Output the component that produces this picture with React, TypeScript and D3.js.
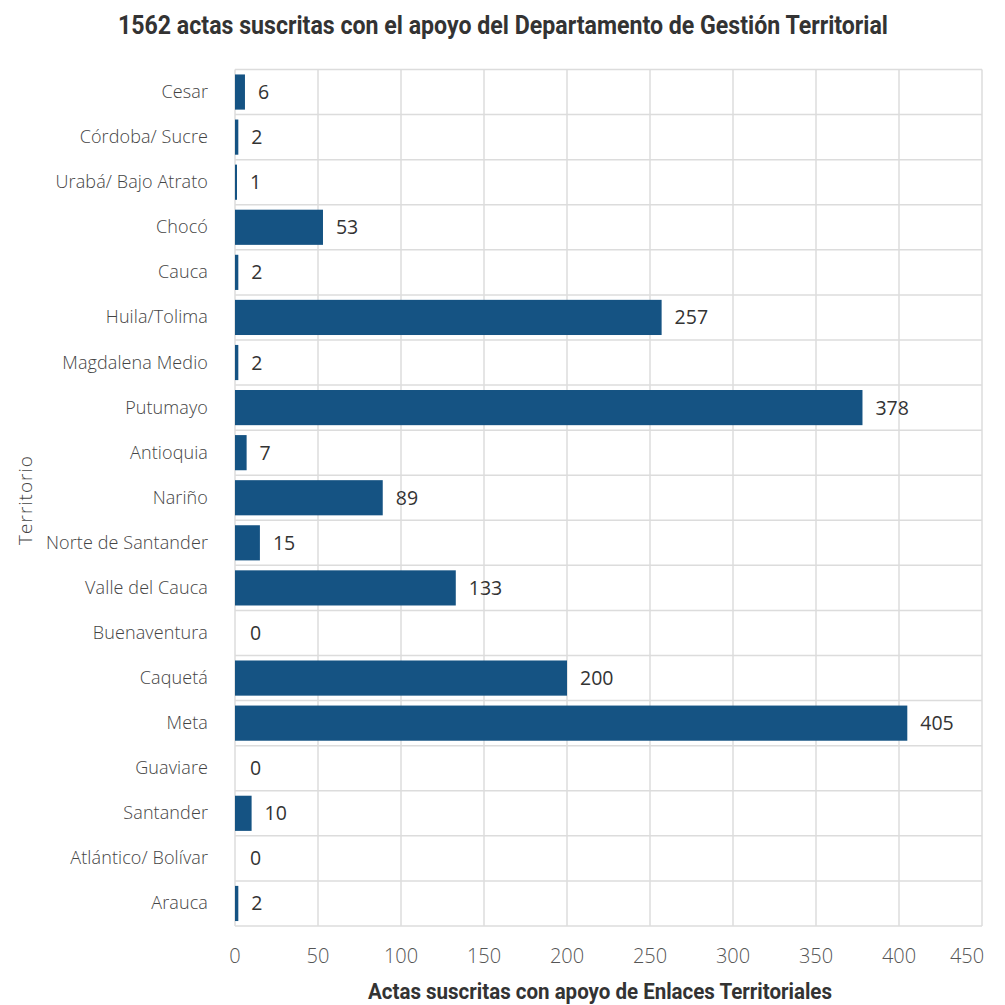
import React from "react";
import * as d3 from "d3";

const categories = ["Cesar","Córdoba/ Sucre","Urabá/ Bajo Atrato","Chocó","Cauca","Huila/Tolima","Magdalena Medio","Putumayo","Antioquia","Nariño","Norte de Santander","Valle del Cauca","Buenaventura","Caquetá","Meta","Guaviare","Santander","Atlántico/ Bolívar","Arauca"];
const values = [6,2,1,53,2,257,2,378,7,89,15,133,0,200,405,0,10,0,2];
const xTicks = [0,50,100,150,200,250,300,350,400,450];
const title = "1562 actas suscritas con el apoyo del Departamento de Gestión Territorial";
const xTitle = "Actas suscritas con apoyo de Enlaces Territoriales";
const yTitle = "Territorio";

export default function App() {
  const W = 1005, H = 1005;
  const left = 235, right = 982, top = 69.5, bottom = 926;
  const x = d3.scaleLinear().domain([0, 450]).range([left, right]);
  const y = d3.scaleBand<string>().domain(categories).range([top, bottom]).paddingInner(0.22).paddingOuter(0.11);
  const step = y.step();
  const grid = "#dcdcdc";
  const barColor = "#155383";
  const lightFont = "'Open Sans', Lato, sans-serif";
  return (
    <svg width={W} height={H} style={{ position: "absolute", left: 0, top: 0, background: "#fff" }}>
      <text x={503} y={34} textAnchor="middle" fontFamily="Roboto, sans-serif" fontWeight={700} fontSize={25} fill="#333" textLength={770} lengthAdjust="spacingAndGlyphs">{title}</text>
      {xTicks.map(t => (
        <line key={"v" + t} x1={x(t)} x2={x(t)} y1={top} y2={bottom} stroke={grid} strokeWidth={1.5} />
      ))}
      {categories.map((c, i) => (
        <line key={"h" + i} x1={left} x2={right} y1={top + i * step} y2={top + i * step} stroke={grid} strokeWidth={1.5} />
      ))}
      <line x1={left} x2={right} y1={bottom} y2={bottom} stroke={grid} strokeWidth={1.5} />
      {categories.map((c, i) => (
        <g key={c}>
          <rect x={x(0)} y={y(c)!} width={Math.max(x(values[i]) - x(0), values[i] > 0 ? 2 : 0)} height={y.bandwidth()} fill={barColor} />
          <text x={Math.max(x(values[i]), x(0) + 2) + 13} y={y(c)! + y.bandwidth() / 2 + 7} fontFamily={lightFont} fontWeight={400} fontSize={19.5} fill="#333">{values[i]}</text>
          <text x={208} y={y(c)! + y.bandwidth() / 2 + 6} textAnchor="end" fontFamily={lightFont} fontWeight={300} fontSize={18} fill="#444" letterSpacing={0.1}>{c}</text>
        </g>
      ))}
      {xTicks.map((t, i) => (
        <text key={"t" + t} x={i === xTicks.length - 1 ? x(t) - 15 : x(t)} y={963} textAnchor="middle" fontFamily={lightFont} fontWeight={300} fontSize={20} fill="#555">{t}</text>
      ))}
      <text x={600} y={999} textAnchor="middle" fontFamily="Roboto, sans-serif" fontWeight={700} fontSize={22} fill="#333" textLength={464} lengthAdjust="spacingAndGlyphs">{xTitle}</text>
      <text transform={`translate(32, 500) rotate(-90)`} textAnchor="middle" fontFamily={lightFont} fontWeight={300} fontSize={19} fill="#444" letterSpacing={1}>{yTitle}</text>
    </svg>
  );
}
